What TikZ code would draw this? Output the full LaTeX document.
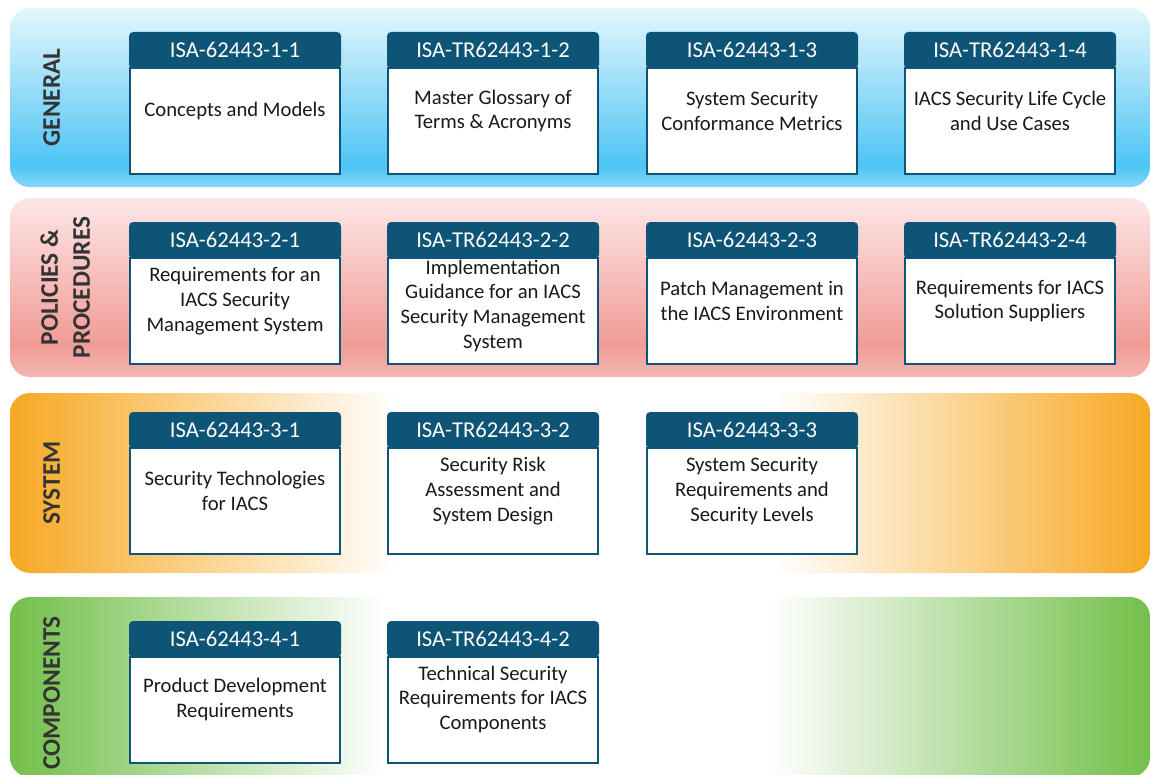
\documentclass[tikz,border=0pt]{standalone}
\usepackage{fontspec}
\setmainfont{Carlito}
\usetikzlibrary{positioning}
\definecolor{hdrblue}{HTML}{0D5476}
\definecolor{lblgray}{HTML}{333333}
\definecolor{genlight}{HTML}{E5F6FD}
\definecolor{gendeep}{HTML}{4DC5F4}
\definecolor{genbot}{HTML}{86D6F7}
\definecolor{pollight}{HTML}{FDE7E7}
\definecolor{poldeep}{HTML}{F09B95}
\definecolor{polbot}{HTML}{F5B7B2}
\definecolor{sysorange}{HTML}{F7A823}
\definecolor{compgreen}{HTML}{72BF4A}
\pgfdeclareverticalshading{genshade}{100bp}{color(0bp)=(genbot); color(25bp)=(genbot); color(31bp)=(gendeep); color(75bp)=(genlight); color(100bp)=(genlight)}
\pgfdeclareverticalshading{polshade}{100bp}{color(0bp)=(polbot); color(25bp)=(polbot); color(34bp)=(poldeep); color(75bp)=(pollight); color(100bp)=(pollight)}
\pgfdeclarehorizontalshading{sysshade}{100bp}{color(0bp)=(sysorange); color(25bp)=(sysorange); color(42bp)=(white); color(58.5bp)=(white); color(75bp)=(sysorange); color(100bp)=(sysorange)}
\pgfdeclarehorizontalshading{compshade}{100bp}{color(0bp)=(compgreen); color(25bp)=(compgreen); color(41.5bp)=(white); color(58.3bp)=(white); color(75bp)=(compgreen); color(100bp)=(compgreen)}

\begin{document}
\begin{tikzpicture}[x=0.75pt,y=-0.75pt,
		bandlabel/.style={rotate=90, anchor=north, inner sep=0pt, align=center, text=lblgray, font=\bfseries\fontsize{19}{24}\selectfont},
		hdr/.style={rectangle, anchor=north west, minimum width=157.5pt, minimum height=26pt, inner sep=0pt, outer sep=0pt,
			fill=hdrblue, draw=hdrblue, line width=1.5pt, rounded corners=2.5pt, text=white, font=\fontsize{17}{20}\selectfont},
		card/.style={rectangle, minimum width=157.5pt, minimum height=80pt, inner sep=0pt, outer sep=0pt,
			fill=white, draw=hdrblue, line width=1.5pt},
		cardtext/.style={align=center, inner sep=0pt, text=black!90, font=\fontsize{15.5}{18.5}\selectfont},
	]
		\clip (0,0) rectangle (1151,774);
		% bands
		\shade[shading=genshade, rounded corners=15pt] (10,8) rectangle (1150,187);
		\shade[shading=polshade, rounded corners=15pt] (10,198) rectangle (1150,377);
		\shade[shading=sysshade, rounded corners=15pt] (10,393) rectangle (1150,573);
		\shade[shading=compshade, rounded corners=15pt] (10,597) rectangle (1150,777);
		\node[bandlabel] (gen) at (43,97.5) {GENERAL};
		\node[bandlabel] (pol) at (40,287.5) {POLICIES \&\\PROCEDURES};
		\node[bandlabel] (sys) at (43,483) {SYSTEM};
		\node[bandlabel] (comp) at (43,693) {COMPONENTS};
		% cards
		\foreach \n/\x/\y/\id/\s/\txt in {
			a1/130/33/ISA-62443-1-1/7.5/{Concepts and Models},
			a2/388/33/ISA-TR62443-1-2/7.5/{Master Glossary of\\Terms \& Acronyms},
			a3/647/33/ISA-62443-1-3/7.5/{System Security\\Conformance Metrics},
			a4/905/33/ISA-TR62443-1-4/7.5/{IACS Security Life Cycle\\and Use Cases},
			b1/130/223/ISA-62443-2-1/7.5/{Requirements for an\\IACS Security\\Management System},
			b2/388/223/ISA-TR62443-2-2/4/{Implementation\\Guidance for an IACS\\Security Management\\System},
			b3/647/223/ISA-62443-2-3/7.5/{Patch Management in\\the IACS Environment},
			b4/905/223/ISA-TR62443-2-4/7.5/{Requirements for IACS\\Solution Suppliers},
			c1/130/413/ISA-62443-3-1/7.5/{Security Technologies\\for IACS},
			c2/388/413/ISA-TR62443-3-2/7.5/{Security Risk\\Assessment and\\System Design},
			c3/647/413/ISA-62443-3-3/7.5/{System Security\\Requirements and\\Security Levels},
			d1/130/622/ISA-62443-4-1/8/{Product Development\\Requirements},
			d2/388/622/ISA-TR62443-4-2/8/{Technical Security\\Requirements for IACS\\Components}%
		}{
			\node[hdr] (h\n) at (\x,\y) {\id};
			\node[card, below=0pt of h\n] (b\n) {};
			\node[cardtext] (t\n) at ([yshift=\s pt]b\n.center) {\txt};
		}
	\end{tikzpicture}
\end{document}
